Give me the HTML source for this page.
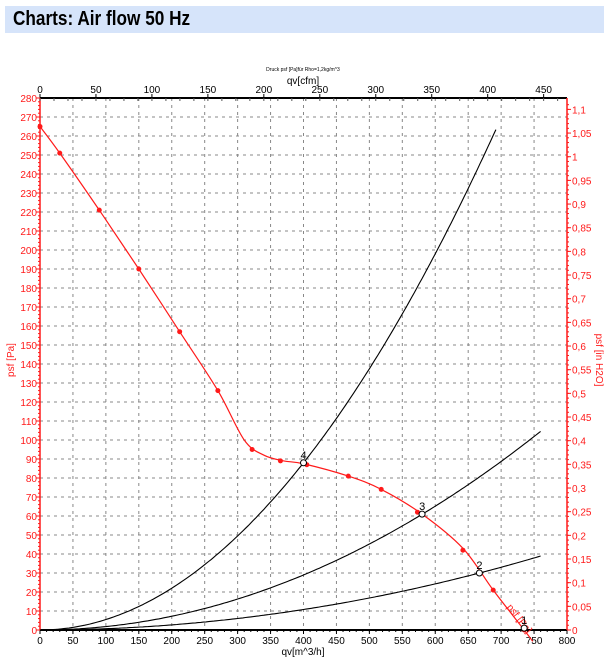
<!DOCTYPE html>
<html><head><meta charset="utf-8">
<style>
body{margin:0;background:#fff;width:609px;height:660px;overflow:hidden;font-family:"Liberation Sans",sans-serif}
#hdr{position:absolute;left:5px;top:6px;width:599px;height:27px;background:#d6e4fa}
#hdr span{position:absolute;left:8px;top:2px;font-size:20px;font-weight:bold;color:#000;transform:scaleX(0.86);transform-origin:0 0;white-space:nowrap}
svg{position:absolute;left:0;top:0}
</style></head><body>
<div id="hdr"><span>Charts: Air flow 50 Hz</span></div>
<svg id="c" width="609" height="660"></svg>
<script>
const fanFlow=[0,30,90,150,212,270,322,365,405,468,518,573,642,688,735];
const fanPress=[265,251,221,190,157,126,95,89,87,81,74,62,42,21,0];
const curveFlow=[0,30,90,150,212,270,310,340,370,400,468,518,580,642,688,735,748];
const curvePress=[265,251,221,190,157,126,100,92,89,87.5,81,74,61,43,21,0,-6];
const sysK=[0.00055,0.000181,0.0000674];
const sysMax=[694,762,762];
const opFlow=[735,667,580,400];
const opPress=[1,30,61,88];
const opLabels=["1","2","3","4"];
const xTicks=[0,50,100,150,200,250,300,350,400,450,500,550,600,650,700,750,800];
const yTicks=[0,10,20,30,40,50,60,70,80,90,100,110,120,130,140,150,160,170,180,190,200,210,220,230,240,250,260,270,280];
const cfmTicks=[0,50,100,150,200,250,300,350,400,450];
const inTicks=[0,0.05,0.1,0.15,0.2,0.25,0.3,0.35,0.4,0.45,0.5,0.55,0.6,0.65,0.7,0.75,0.8,0.85,0.9,0.95,1,1.05,1.1];

const X0=40,X1=567,Y0=630,Y1=98;
const sx=v=>X0+(v/800)*(X1-X0);
const sy=v=>Y0-(v/280)*(Y0-Y1);
const svg=document.getElementById('c');
const NS='http://www.w3.org/2000/svg';
function mk(t,a,txt){const e=document.createElementNS(NS,t);for(const k in a)e.setAttribute(k,a[k]);if(txt!==undefined)e.textContent=txt;svg.appendChild(e);return e;}
const RED='#ff1a1a';
for(const v of xTicks){if(v>0&&v<800){const e=mk('line',{x1:sx(v),x2:sx(v),y1:Y1,y2:Y0,stroke:'#888','stroke-dasharray':'3,4','stroke-width':1});

}}
for(const v of yTicks){if(v>0&&v<280){const e=mk('line',{x1:X0,x2:X1,y1:sy(v),y2:sy(v),stroke:'#888','stroke-dasharray':'3,4','stroke-width':1});

}}
let a=mk('line',{x1:X0,x2:X1,y1:Y1,y2:Y1,stroke:'#000','stroke-width':2});
a=mk('line',{x1:X0,x2:X1,y1:Y0,y2:Y0,stroke:'#000','stroke-width':2});
a=mk('line',{x1:X0,x2:X0,y1:Y1,y2:Y0,stroke:RED,'stroke-width':1.5});
a=mk('line',{x1:X1,x2:X1,y1:Y1,y2:Y0,stroke:RED,'stroke-width':1.5});
for(const v of xTicks){mk('line',{x1:sx(v),x2:sx(v),y1:Y0,y2:Y0+4,stroke:'#000'});
const t=mk('text',{x:sx(v),y:Y0+14,'font-size':10,'text-anchor':'middle',fill:'#000'},String(v));

}
for(let v=0;v<=800;v+=10){mk('line',{x1:sx(v),x2:sx(v),y1:Y0,y2:Y0+2,stroke:'#000'});}
for(const v of cfmTicks){const p=sx(v*1.699);mk('line',{x1:p,x2:p,y1:Y1,y2:Y1-4,stroke:'#000'});
const t=mk('text',{x:p,y:Y1-5,'font-size':10,'text-anchor':'middle',fill:'#000'},String(v));

}
for(let v=0;v<=470;v+=12.5){const p=sx(v*1.699);if(p<=X1)mk('line',{x1:p,x2:p,y1:Y1,y2:Y1+3,stroke:'#555'});}
for(const v of yTicks){mk('line',{x1:X0-4,x2:X0,y1:sy(v),y2:sy(v),stroke:RED});
const t=mk('text',{x:X0-3,y:sy(v)+4,'font-size':10,'text-anchor':'end',fill:RED},String(v));

}
for(let v=0;v<=280;v+=2){mk('line',{x1:X0-2,x2:X0,y1:sy(v),y2:sy(v),stroke:RED});}
for(const v of inTicks){const p=sy(v*249.09);mk('line',{x1:X1,x2:X1+4,y1:p,y2:p,stroke:RED});
const t=mk('text',{x:X1+5,y:p+4,'font-size':10,fill:RED},String(v).replace('.',','));

}
for(let v=0;v<=1.12;v+=0.01){const p=sy(v*249.09);mk('line',{x1:X1,x2:X1+2,y1:p,y2:p,stroke:RED});}
let t=mk('text',{x:303,y:71,'font-size':5,'text-anchor':'middle',fill:'#000'},'Druck psf  [Pa]für Rho=1,2kg/m^3');
t=mk('text',{x:303,y:84,'font-size':10,'text-anchor':'middle',fill:'#000'},'qv[cfm]');
t=mk('text',{x:303,y:655,'font-size':10,'text-anchor':'middle',fill:'#000'},'qv[m^3/h]');
t=mk('text',{x:0,y:0,'font-size':10,'text-anchor':'middle',fill:RED,transform:'translate(14,360) rotate(-90)'},'psf  [Pa]');
t=mk('text',{x:0,y:0,'font-size':10,'text-anchor':'middle',fill:RED,transform:'translate(596,360) rotate(90)'},'psf  [in H2O]');
sysK.forEach((k,i)=>{let d='';for(let q=0;q<=sysMax[i];q+=4){d+=(q?'L':'M')+sx(q).toFixed(1)+','+sy(k*q*q).toFixed(1);}
const e=mk('path',{d:d,fill:'none',stroke:'#000','stroke-width':1.1});

});
const P=curveFlow.map((q,i)=>[sx(q),sy(curvePress[i])]);
let d='M'+P[0][0]+','+P[0][1];
for(let i=0;i<P.length-1;i++){const p0=P[Math.max(0,i-1)],p1=P[i],p2=P[i+1],p3=P[Math.min(P.length-1,i+2)];
d+=`C${p1[0]+(p2[0]-p0[0])/6},${p1[1]+(p2[1]-p0[1])/6} ${p2[0]-(p3[0]-p1[0])/6},${p2[1]-(p3[1]-p1[1])/6} ${p2[0]},${p2[1]}`;}
let fc=mk('path',{d:d,fill:'none',stroke:RED,'stroke-width':1.2});
fanFlow.forEach((q,i)=>{const e=mk('circle',{cx:sx(q),cy:sy(fanPress[i]),r:2.5,fill:RED});

});
t=mk('text',{x:0,y:0,'font-size':10,fill:RED,transform:`translate(${sx(708)},${sy(12)}) rotate(52)`},'psf  [Pa]');
opFlow.forEach((q,i)=>{const e=mk('circle',{cx:sx(q),cy:sy(opPress[i]),r:3,fill:'#fff',stroke:'#000'});


const l=mk('text',{x:sx(q)-3,y:sy(opPress[i])-4,'font-size':11,fill:'#000'},opLabels[i]);

});
</script>
</body></html>
